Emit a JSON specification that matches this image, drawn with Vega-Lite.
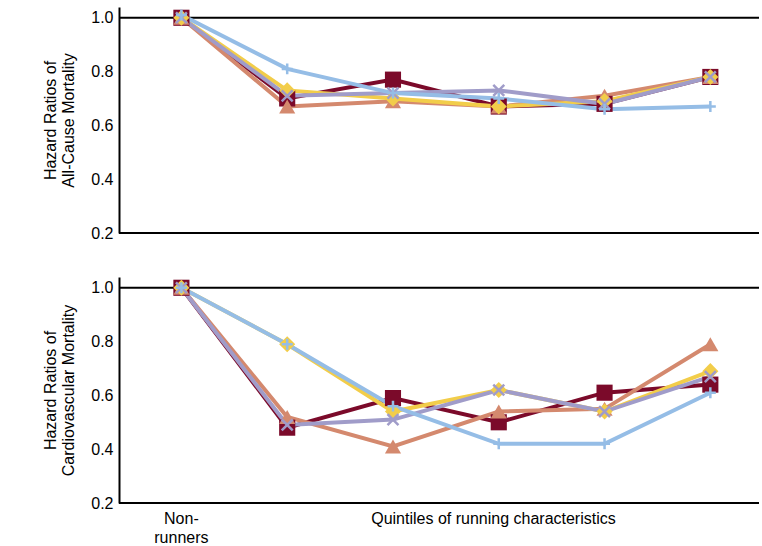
{
  "$schema": "https://vega.github.io/schema/vega-lite/v6.json",
  "padding": {"left": 42, "top": 4, "right": 0, "bottom": 0},
  "background": "white",
  "config": {"font": "Liberation Sans", "view": {"stroke": null}, "concat": {"spacing": 36}},
  "datasets": {
    "d": [
      {"p": "all", "s": "a", "x": 0, "v": 1.0}, {"p": "all", "s": "a", "x": 1, "v": 0.70}, {"p": "all", "s": "a", "x": 2, "v": 0.77}, {"p": "all", "s": "a", "x": 3, "v": 0.67}, {"p": "all", "s": "a", "x": 4, "v": 0.68}, {"p": "all", "s": "a", "x": 5, "v": 0.78},
      {"p": "all", "s": "b", "x": 0, "v": 1.0}, {"p": "all", "s": "b", "x": 1, "v": 0.67}, {"p": "all", "s": "b", "x": 2, "v": 0.69}, {"p": "all", "s": "b", "x": 3, "v": 0.67}, {"p": "all", "s": "b", "x": 4, "v": 0.71}, {"p": "all", "s": "b", "x": 5, "v": 0.78},
      {"p": "all", "s": "c", "x": 0, "v": 1.0}, {"p": "all", "s": "c", "x": 1, "v": 0.73}, {"p": "all", "s": "c", "x": 2, "v": 0.70}, {"p": "all", "s": "c", "x": 3, "v": 0.67}, {"p": "all", "s": "c", "x": 4, "v": 0.69}, {"p": "all", "s": "c", "x": 5, "v": 0.78},
      {"p": "all", "s": "d", "x": 0, "v": 1.0}, {"p": "all", "s": "d", "x": 1, "v": 0.71}, {"p": "all", "s": "d", "x": 2, "v": 0.72}, {"p": "all", "s": "d", "x": 3, "v": 0.73}, {"p": "all", "s": "d", "x": 4, "v": 0.68}, {"p": "all", "s": "d", "x": 5, "v": 0.78},
      {"p": "all", "s": "e", "x": 0, "v": 1.01}, {"p": "all", "s": "e", "x": 1, "v": 0.81}, {"p": "all", "s": "e", "x": 2, "v": 0.72}, {"p": "all", "s": "e", "x": 3, "v": 0.70}, {"p": "all", "s": "e", "x": 4, "v": 0.66}, {"p": "all", "s": "e", "x": 5, "v": 0.67},
      {"p": "cv", "s": "a", "x": 0, "v": 1.0}, {"p": "cv", "s": "a", "x": 1, "v": 0.48}, {"p": "cv", "s": "a", "x": 2, "v": 0.59}, {"p": "cv", "s": "a", "x": 3, "v": 0.50}, {"p": "cv", "s": "a", "x": 4, "v": 0.61}, {"p": "cv", "s": "a", "x": 5, "v": 0.64},
      {"p": "cv", "s": "b", "x": 0, "v": 1.0}, {"p": "cv", "s": "b", "x": 1, "v": 0.52}, {"p": "cv", "s": "b", "x": 2, "v": 0.41}, {"p": "cv", "s": "b", "x": 3, "v": 0.54}, {"p": "cv", "s": "b", "x": 4, "v": 0.55}, {"p": "cv", "s": "b", "x": 5, "v": 0.79},
      {"p": "cv", "s": "c", "x": 0, "v": 1.0}, {"p": "cv", "s": "c", "x": 1, "v": 0.79}, {"p": "cv", "s": "c", "x": 2, "v": 0.54}, {"p": "cv", "s": "c", "x": 3, "v": 0.62}, {"p": "cv", "s": "c", "x": 4, "v": 0.54}, {"p": "cv", "s": "c", "x": 5, "v": 0.69},
      {"p": "cv", "s": "d", "x": 0, "v": 1.0}, {"p": "cv", "s": "d", "x": 1, "v": 0.49}, {"p": "cv", "s": "d", "x": 2, "v": 0.51}, {"p": "cv", "s": "d", "x": 3, "v": 0.62}, {"p": "cv", "s": "d", "x": 4, "v": 0.54}, {"p": "cv", "s": "d", "x": 5, "v": 0.67},
      {"p": "cv", "s": "e", "x": 0, "v": 1.0}, {"p": "cv", "s": "e", "x": 1, "v": 0.79}, {"p": "cv", "s": "e", "x": 2, "v": 0.56}, {"p": "cv", "s": "e", "x": 3, "v": 0.42}, {"p": "cv", "s": "e", "x": 4, "v": 0.42}, {"p": "cv", "s": "e", "x": 5, "v": 0.61}
    ],
    "labels": [
      {"x": 0, "t": ["Non-", "runners"]},
      {"x": 2.95, "t": ["Quintiles of running characteristics"]}
    ],
    "rules": [{"v": 1.0}, {"v": 0.2}]
  },
  "vconcat": [
    {
      "width": 640, "height": 226,
      "layer": [
        {"data": {"name": "rules"}, "mark": {"type": "rule", "color": "black", "strokeWidth": 2}, "encoding": {"y": {"field": "v", "type": "quantitative", "scale": {"domain": [0.2, 1.04]}}}},
        {
          "data": {"name": "d"}, "transform": [{"filter": "datum.p == 'all'"}],
          "encoding": {
            "x": {"field": "x", "type": "quantitative", "scale": {"domain": [-0.59, 5.46]}, "axis": null},
            "y": {"field": "v", "type": "quantitative", "scale": {"domain": [0.2, 1.04]},
              "axis": {"values": [0.2, 0.4, 0.6, 0.8, 1.0], "format": ".1f", "grid": false, "ticks": false, "domainColor": "black", "domainWidth": 2, "labelFontSize": 16, "labelColor": "black", "labelPadding": 6, "title": ["Hazard Ratios of", "All-Cause Mortality"], "titleFontSize": 16, "titleFontWeight": "normal", "titleColor": "black", "titlePadding": 14}},
            "color": {"field": "s", "type": "nominal", "legend": null, "scale": {"domain": ["a", "b", "c", "d", "e"], "range": ["#7B0A2A", "#D4896E", "#F2CD4A", "#A09CC9", "#95BDE6"]}},
            "shape": {"field": "s", "type": "nominal", "legend": null, "scale": {"domain": ["a", "b", "c", "d", "e"], "range": ["square", "triangle-up", "diamond", "M-1,-1L1,1M-1,1L1,-1", "M-1,0L1,0M0,-1L0,1"]}}
          },
          "layer": [
            {"mark": {"type": "line", "strokeWidth": 4}},
            {"mark": {"type": "point", "filled": true, "size": 260, "opacity": 1, "strokeWidth": 0}, "transform": [{"filter": "datum.s == 'a' || datum.s == 'b' || datum.s == 'c'"}]},
            {"mark": {"type": "point", "filled": false, "size": 120, "opacity": 1, "strokeWidth": 2.5}, "transform": [{"filter": "datum.s == 'd' || datum.s == 'e'"}]}
          ]
        }
      ]
    },
    {
      "width": 640, "height": 226,
      "layer": [
        {"data": {"name": "rules"}, "mark": {"type": "rule", "color": "black", "strokeWidth": 2}, "encoding": {"y": {"field": "v", "type": "quantitative", "scale": {"domain": [0.2, 1.04]}}}},
        {
          "data": {"name": "d"}, "transform": [{"filter": "datum.p == 'cv'"}],
          "encoding": {
            "x": {"field": "x", "type": "quantitative", "scale": {"domain": [-0.59, 5.46]}, "axis": null},
            "y": {"field": "v", "type": "quantitative", "scale": {"domain": [0.2, 1.04]},
              "axis": {"values": [0.2, 0.4, 0.6, 0.8, 1.0], "format": ".1f", "grid": false, "ticks": false, "domainColor": "black", "domainWidth": 2, "labelFontSize": 16, "labelColor": "black", "labelPadding": 6, "title": ["Hazard Ratios of", "Cardiovascular Mortality"], "titleFontSize": 16, "titleFontWeight": "normal", "titleColor": "black", "titlePadding": 14}},
            "color": {"field": "s", "type": "nominal", "legend": null, "scale": {"domain": ["a", "b", "c", "d", "e"], "range": ["#7B0A2A", "#D4896E", "#F2CD4A", "#A09CC9", "#95BDE6"]}},
            "shape": {"field": "s", "type": "nominal", "legend": null, "scale": {"domain": ["a", "b", "c", "d", "e"], "range": ["square", "triangle-up", "diamond", "M-1,-1L1,1M-1,1L1,-1", "M-1,0L1,0M0,-1L0,1"]}}
          },
          "layer": [
            {"mark": {"type": "line", "strokeWidth": 4}},
            {"mark": {"type": "point", "filled": true, "size": 260, "opacity": 1, "strokeWidth": 0}, "transform": [{"filter": "datum.s == 'a' || datum.s == 'b' || datum.s == 'c'"}]},
            {"mark": {"type": "point", "filled": false, "size": 120, "opacity": 1, "strokeWidth": 2.5}, "transform": [{"filter": "datum.s == 'd' || datum.s == 'e'"}]}
          ]
        },
        {
          "data": {"name": "labels"},
          "mark": {"type": "text", "fontSize": 16, "baseline": "top", "dy": 8, "lineHeight": 19, "color": "black", "y": 226},
          "encoding": {
            "x": {"field": "x", "type": "quantitative", "scale": {"domain": [-0.59, 5.46]}},
            "text": {"field": "t"}
          }
        }
      ]
    }
  ]
}
